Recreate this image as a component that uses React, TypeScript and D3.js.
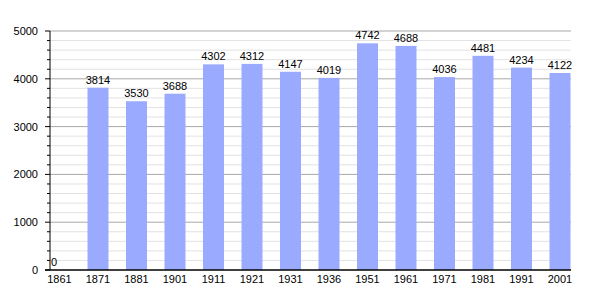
import React from "react";
import * as d3 from "d3";

const years = ["1861","1871","1881","1901","1911","1921","1931","1936","1951","1961","1971","1981","1991","2001"];
const population = [0,3814,3530,3688,4302,4312,4147,4019,4742,4688,4036,4481,4234,4122];
const yTicks = [0,1000,2000,3000,4000,5000];

export default function App() {
  const W = 600, H = 300;
  const left = 50, right = 571, top = 31, bottom = 270;
  const x = d3.scalePoint<string>().domain(years).range([59.5, 560]);
  const y = d3.scaleLinear().domain([0, 5000]).range([bottom, top]);
  const minor = d3.range(200, 5001, 200).filter(v => v % 1000 !== 0);
  const bw = 21;
  const font = "'Liberation Sans', Arial, sans-serif";
  return (
    <svg width={W} height={H} style={{ position: "absolute", left: 0, top: 0, background: "#fff" }} fontFamily={font} fontSize={11}>
      {minor.map(v => (
        <g key={"m" + v}>
          <line x1={left} x2={right} y1={y(v)} y2={y(v)} stroke="#e2e2e2" strokeWidth={1} />
          <line x1={left - 3} x2={left} y1={y(v)} y2={y(v)} stroke="#000" strokeWidth={1} />
        </g>
      ))}
      {yTicks.filter(v => v > 0).map(v => (
        <line key={"g" + v} x1={left} x2={right} y1={y(v)} y2={y(v)} stroke="#a8a8a8" strokeWidth={1} />
      ))}
      {population.map((v, i) => (
        <rect key={"b" + i} x={x(years[i])! - bw / 2} width={bw} y={y(v)} height={bottom - y(v)} fill="#99aaff" />
      ))}
      {population.map((v, i) => (
        <text key={"t" + i} x={v === 0 ? left + 1 : x(years[i])!} y={y(v) - 4} textAnchor={v === 0 ? "start" : "middle"} fill="#000">{v}</text>
      ))}
      <line x1={left} x2={left} y1={top} y2={bottom} stroke="#000" strokeWidth={1} />
      {yTicks.map(v => (
        <g key={"y" + v}>
          <line x1={left - 5} x2={left} y1={y(v)} y2={y(v)} stroke="#000" strokeWidth={1} />
          <text x={38} y={y(v) + 4} textAnchor="end" fill="#000">{v}</text>
        </g>
      ))}
      <line x1={left - 5} x2={right} y1={bottom} y2={bottom} stroke="#000" strokeWidth={1.5} />
      {years.map(c => (
        <text key={"x" + c} x={x(c)!} y={bottom + 13} textAnchor="middle" fill="#000">{c}</text>
      ))}
    </svg>
  );
}
